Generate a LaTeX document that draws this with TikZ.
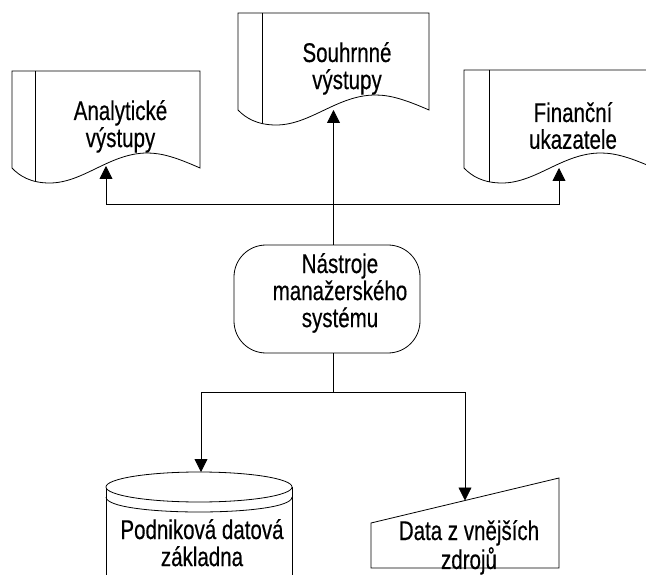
\documentclass[tikz,border=0pt]{standalone}
\usepackage{fontspec}
\newfontfamily\lblfont{Liberation Sans}[FakeStretch=0.76,FakeBold=0.4]
\usetikzlibrary{arrows.meta}
\newcommand\twoline[1]{\begin{tabular}[t]{@{}c@{}}#1\end{tabular}}
\newcommand\docshape[5]{% x1, x2, ytop, ybottom, xinner
  \pgfmathsetmacro\dsW{#2-#1}%
  \pgfmathsetmacro\dsPk{#1+0.72*\dsW}%
  \pgfmathsetmacro\dsMn{#1+0.2*\dsW}%
  \pgfmathsetmacro\dsCa{#2-0.12*\dsW}%
  \pgfmathsetmacro\dsCb{#1+0.80*\dsW}%
  \pgfmathsetmacro\dsCc{#1+0.52*\dsW}%
  \pgfmathsetmacro\dsCd{#1+0.38*\dsW}%
  \pgfmathsetmacro\dsCe{#1+0.10*\dsW}%
  \pgfmathsetmacro\dsCf{#1+0.04*\dsW}%
  \pgfmathsetmacro\dsUp{#4-15}%
  \pgfmathsetmacro\dsDn{#4+15}%
  \pgfmathsetmacro\dsUa{#4-10}%
  \pgfmathsetmacro\dsDa{#4+8}%
  \path[shp] (#1,#3) -- (#2,#3) -- (#2,#4)
    .. controls (\dsCa,\dsUa) and (\dsCb,\dsUp) .. (\dsPk,\dsUp)
    .. controls (\dsCc,\dsUp) and (\dsCd,\dsDn) .. (\dsMn,\dsDn)
    .. controls (\dsCe,\dsDn) and (\dsCf,\dsDa) .. (#1,#4) -- cycle;
  \begin{scope}
    \clip (#1,#3) -- (#2,#3) -- (#2,#4)
    .. controls (\dsCa,\dsUa) and (\dsCb,\dsUp) .. (\dsPk,\dsUp)
    .. controls (\dsCc,\dsUp) and (\dsCd,\dsDn) .. (\dsMn,\dsDn)
    .. controls (\dsCe,\dsDn) and (\dsCf,\dsDa) .. (#1,#4) -- cycle;
    \draw[line width=0.8pt] (#5,#3) -- (#5,#4+40);
  \end{scope}
}
\begin{document}
\begin{tikzpicture}[x=1pt,y=-1pt,line width=0.8pt,
  shp/.style={draw,line width=0.8pt,fill=white},
  conn/.style={draw,line width=0.8pt},
  arr/.style={-{Triangle[width=13pt,length=13pt]}},
  lbl/.style={font=\lblfont\fontsize{27}{24}\selectfont,inner sep=0pt,anchor=base}]
\useasboundingbox (0,0) rectangle (646,575);
\fill[white] (0,0) rectangle (646,575);

% documents
\docshape{12}{200}{71}{168}{35}
\docshape{238}{429}{13}{110}{262}
\docshape{464}{654}{70}{168}{489}

\coordinate (docLin) at (106,166);
\coordinate (docMin) at (333.5,110);
\coordinate (docRin) at (559,168);

\node[lbl] (tL) at (120.5,120) {\twoline{Analytické\\výstupy}};
\node[lbl] (tM) at (347,62) {\twoline{Souhrnné\\výstupy}};
\node[lbl] (tR) at (573,122) {\twoline{Finanční\\ukazatele}};

% terminal
\node[shp,rounded corners=32pt,minimum width=186pt,minimum height=108pt,inner sep=0pt] (term) at (327,299) {};
\node[lbl] (tT) at (340,273) {\twoline{Nástroje\\manažerského\\systému}};

% junctions
\coordinate (jTop) at (333.5,204);
\coordinate (jTopL) at (106,204);
\coordinate (jTopR) at (559,204);
\coordinate (jBot) at (333.5,392);
\coordinate (jBotL) at (201,392);
\coordinate (jBotR) at (465,392);

% cylinder
\path[shp] (106,487) -- (106,585) -- (292,585) -- (292,487) -- cycle;
\draw[fill=white] (199,487) ellipse [x radius=93, y radius=15];
\draw (106,497) .. controls (106,517) and (292,517) .. (292,497);
\coordinate (cylIn) at (201,472);
\node[lbl] (tC) at (202,539) {\twoline{Podniková datová\\základna}};

% manual input
\path[shp] (371,523) -- (559,478) -- (559,568) -- (371,568) -- cycle;
\coordinate (manIn) at (465,500.5);
\node[lbl] (tD) at (469,540) {\twoline{Data z vnějších\\zdrojů}};

% connectors
\draw[conn,arr] (term.north -| jTop) -- (docMin);
\draw[conn,arr] (jTop) -- (jTopL) -- (docLin);
\draw[conn,arr] (jTop) -- (jTopR) -- (docRin);
\draw[conn] (term.south -| jBot) -- (jBot);
\draw[conn] (jBotL) -- (jBotR);
\draw[conn,arr] (jBotL) -- (cylIn);
\draw[conn,arr] (jBotR) -- (manIn);
\end{tikzpicture}
\end{document}
